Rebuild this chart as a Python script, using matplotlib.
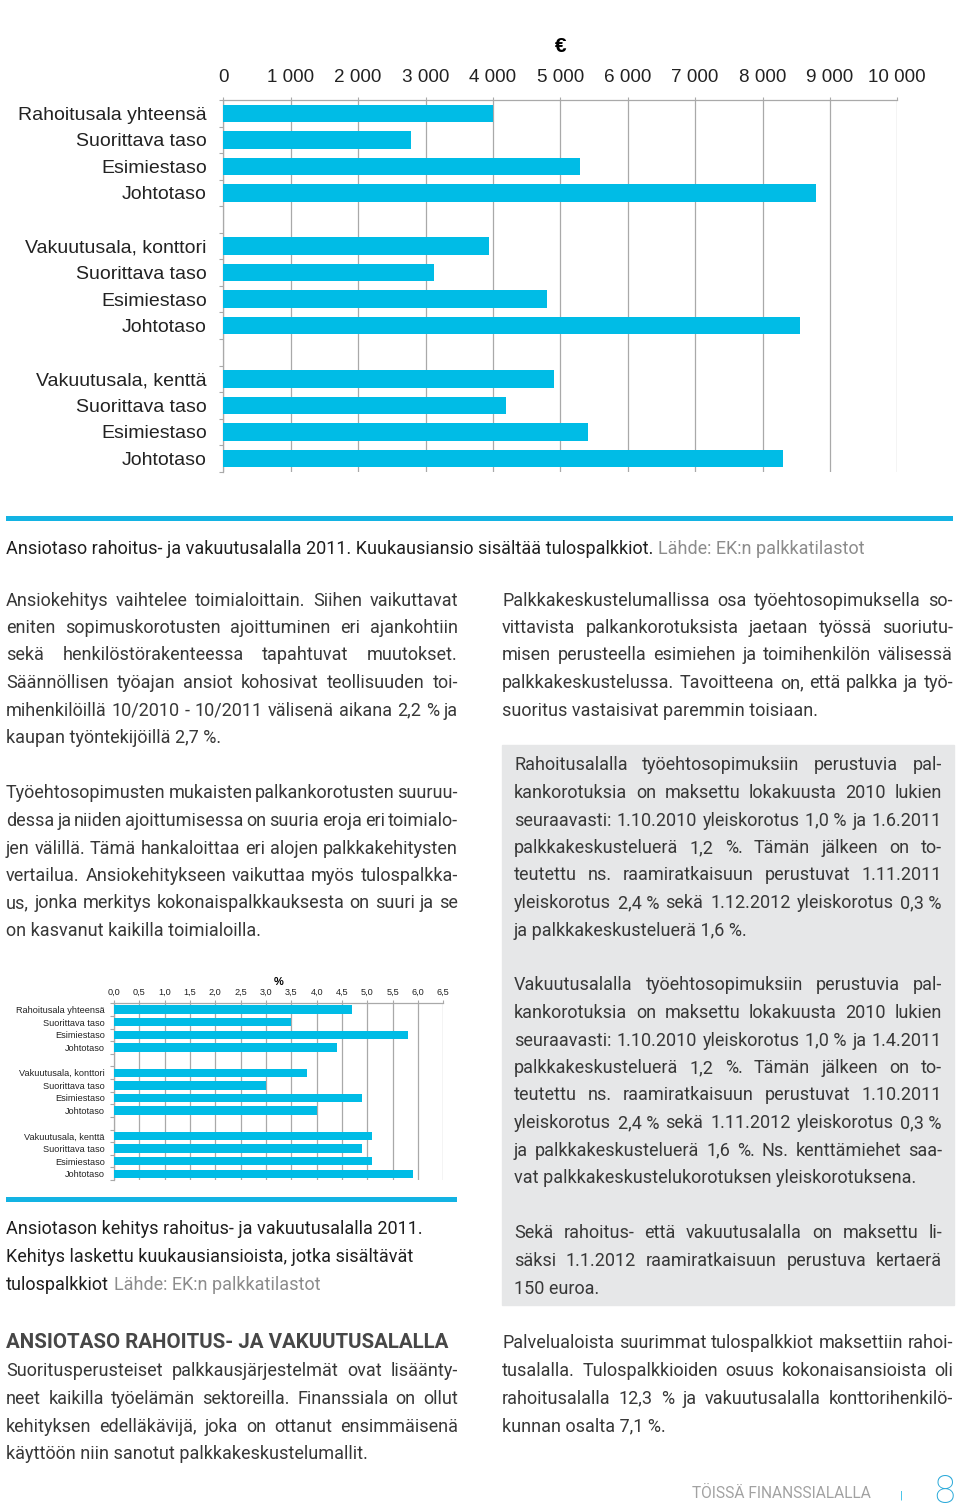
import matplotlib
matplotlib.use('Agg')
import numpy as np
import matplotlib.pyplot as plt
from matplotlib.patches import Rectangle

# page size in pixels (dpi 100)
W, H = 960, 1511
BLUE = '#00bce6'
BAND = '#13b3e3'
TXT = '#383838'
GREY = '#8c8c8c'
GRID = '#a9a9a9'
BODY_FONT = ['Roboto', 'DejaVu Sans']
CHART_FONT = ['Liberation Sans', 'DejaVu Sans']
BODY_SIZE = 13
LEAD = 27.5

# -------------------------- data --------------------------
labels = ['Rahoitusala yhteensä', 'Suorittava taso', 'Esimiestaso', 'Johtotaso',
          'Vakuutusala, konttori', 'Suorittava taso', 'Esimiestaso', 'Johtotaso',
          'Vakuutusala, kenttä', 'Suorittava taso', 'Esimiestaso', 'Johtotaso']
euros = [4000, 2780, 5290, 8800,
         3940, 3120, 4800, 8550,
         4900, 4200, 5410, 8310]
pct = [4.7, 3.5, 5.8, 4.4,
       3.8, 3.0, 4.9, 4.0,
       5.1, 4.9, 5.1, 5.9]
euro_ticks = list(range(0, 10001, 1000))
euro_ticklabels = ['0', '1 000', '2 000', '3 000', '4 000', '5 000',
                   '6 000', '7 000', '8 000', '9 000', '10 000']
pct_ticks = [i * 0.5 for i in range(14)]
pct_ticklabels = ['0,0', '0,5', '1,0', '1,5', '2,0', '2,5', '3,0',
                  '3,5', '4,0', '4,5', '5,0', '5,5', '6,0', '6,5']

caption_top = 'Ansiotaso rahoitus- ja vakuutusalalla 2011. Kuukausiansio sisältää tulospalkkiot.'
caption_small = ['Ansiotason kehitys rahoitus- ja vakuutusalalla 2011.',
                 'Kehitys laskettu kuukausiansioista, jotka sisältävät',
                 'tulospalkkiot']
source = 'Lähde: EK:n palkkatilastot'

left_p1 = ['Ansiokehitys vaihtelee toimialoittain. Siihen vaikuttavat',
           'eniten sopimuskorotusten ajoittuminen eri ajankohtiin',
           'sekä henkilöstörakenteessa tapahtuvat muutokset.',
           'Säännöllisen työajan ansiot kohosivat teollisuuden toi-',
           'mihenkilöillä 10/2010 - 10/2011 välisenä aikana 2,2 % ja',
           'kaupan työntekijöillä 2,7 %.']
left_p2 = ['Työehtosopimusten mukaisten palkankorotusten suuruu-',
           'dessa ja niiden ajoittumisessa on suuria eroja eri toimialo-',
           'jen välillä. Tämä hankaloittaa eri alojen palkkakehitysten',
           'vertailua. Ansiokehitykseen vaikuttaa myös tulospalkka-',
           'us, jonka merkitys kokonaispalkkauksesta on suuri ja se',
           'on kasvanut kaikilla toimialoilla.']
heading = 'ANSIOTASO RAHOITUS- JA VAKUUTUSALALLA'
left_p3 = ['Suoritusperusteiset palkkausjärjestelmät ovat lisäänty-',
           'neet kaikilla työelämän sektoreilla. Finanssiala on ollut',
           'kehityksen edelläkävijä, joka on ottanut ensimmäisenä',
           'käyttöön niin sanotut palkkakeskustelumallit.']
right_p1 = ['Palkkakeskustelumallissa osa työehtosopimuksella so-',
            'vittavista palkankorotuksista jaetaan työssä suoriutu-',
            'misen perusteella esimiehen ja toimihenkilön välisessä',
            'palkkakeskustelussa. Tavoitteena on, että palkka ja työ-',
            'suoritus vastaisivat paremmin toisiaan.']
box_p1 = ['Rahoitusalalla työehtosopimuksiin perustuvia pal-',
          'kankorotuksia on maksettu lokakuusta 2010 lukien',
          'seuraavasti: 1.10.2010 yleiskorotus 1,0\u00a0% ja 1.6.2011',
          'palkkakeskusteluerä 1,2 %. Tämän jälkeen on to-',
          'teutettu ns. raamiratkaisuun perustuvat 1.11.2011',
          'yleiskorotus 2,4\u00a0% sekä 1.12.2012 yleiskorotus 0,3\u00a0%',
          'ja palkkakeskusteluerä 1,6 %.']
box_p2 = ['Vakuutusalalla työehtosopimuksiin perustuvia pal-',
          'kankorotuksia on maksettu lokakuusta 2010 lukien',
          'seuraavasti: 1.10.2010 yleiskorotus 1,0\u00a0% ja 1.4.2011',
          'palkkakeskusteluerä 1,2 %. Tämän jälkeen on to-',
          'teutettu ns. raamiratkaisuun perustuvat 1.10.2011',
          'yleiskorotus 2,4\u00a0% sekä 1.11.2012 yleiskorotus 0,3\u00a0%',
          'ja palkkakeskusteluerä 1,6 %. Ns. kenttämiehet saa-',
          'vat palkkakeskustelukorotuksen yleiskorotuksena.']
box_p3 = ['Sekä rahoitus- että vakuutusalalla on maksettu li-',
          'säksi 1.1.2012 raamiratkaisuun perustuva kertaerä',
          '150 euroa.']
right_p4 = ['Palvelualoista suurimmat tulospalkkiot maksettiin rahoi-',
            'tusalalla. Tulospalkkioiden osuus kokonaisansioista oli',
            'rahoitusalalla 12,3 % ja vakuutusalalla konttorihenkilö-',
            'kunnan osalta 7,1 %.']


# -------------------------- helpers --------------------------
def fx(x):
    return x / W


def fy(y):
    return 1 - y / H


def axes_px(fig, x0, y0, x1, y1):
    """axes from pixel box (top-left origin)"""
    return fig.add_axes([fx(x0), fy(y1), (x1 - x0) / W, (y1 - y0) / H])


def bar_panel(ax, values, xmax, ticks, ticklabels, tick_fs, label_fs,
              label_pad, tick_pad, unit, unit_fs, unit_pad):
    # 3 groups of 4 rows with one empty row between them
    ypos = [i + i // 4 for i in range(len(values))]
    ax.barh(ypos, values, height=0.66, color=BLUE, zorder=3)
    ax.set_ylim(13.5, -0.5)
    ax.set_xlim(0, xmax)
    ax.xaxis.tick_top()
    ax.set_xticks(ticks)
    ax.set_xticklabels(ticklabels, fontsize=tick_fs, family=CHART_FONT, color='#222222')
    ax.tick_params(axis='x', length=2.5, width=0.8, color=GRID, pad=tick_pad)
    ax.grid(axis='x', color=GRID, lw=0.9, zorder=0)
    ax.set_yticks(ypos)
    ax.set_yticklabels(labels, fontsize=label_fs, family=CHART_FONT, color='#222222')
    ax.tick_params(axis='y', which='major', length=0, pad=label_pad)
    ax.set_yticks(np.arange(-0.5, 14, 1), minor=True)
    ax.tick_params(axis='y', which='minor', length=3, width=0.8, color=GRID)
    for s in ['right', 'bottom']:
        ax.spines[s].set_visible(False)
    for s in ['top', 'left']:
        ax.spines[s].set_color(GRID)
        ax.spines[s].set_linewidth(0.9)
    ax.xaxis.set_label_position('top')
    ax.set_xlabel(unit, fontsize=unit_fs, fontweight='bold', family=CHART_FONT,
                  labelpad=unit_pad)


def text_px(fig, x, y, s, size=BODY_SIZE, color=TXT, weight='normal', **kw):
    return fig.text(fx(x), fy(y + 5.5), s, fontsize=size, color=color,
                    fontweight=weight, family=BODY_FONT, va='baseline', **kw)


def width_of(fig, r, s):
    t = text_px(fig, 0, 300, s)
    w = t.get_window_extent(r).width
    t.remove()
    return w


def justify(fig, r, line, x0, x1, y):
    words = line.split(' ')
    objs = [text_px(fig, x0, y, w) for w in words]
    widths = [o.get_window_extent(r).width for o in objs]
    gap = (x1 - x0 - sum(widths)) / max(len(words) - 1, 1)
    x = x0
    for o, w in zip(objs, widths):
        o.set_x(fx(x))
        x += w + gap


def paragraph(fig, r, lines, x0, x1, y0):
    for i, line in enumerate(lines):
        y = y0 + i * LEAD
        if i < len(lines) - 1:
            justify(fig, r, line, x0, x1, y)
        else:
            text_px(fig, x0, y, line)


def with_source(fig, r, x, y, s):
    t = text_px(fig, x, y, s, color='#1e1e1e')
    space = width_of(fig, r, 'a a') - width_of(fig, r, 'aa')
    w = t.get_window_extent(r).width
    text_px(fig, x + w + space, y, source, color=GREY)


# -------------------------- page --------------------------
fig = plt.figure(figsize=(W / 100, H / 100), dpi=100)
fig.patch.set_facecolor('white')
r = fig.canvas.get_renderer()

# grey info box (behind everything)
fig.add_artist(Rectangle((fx(502), fy(1305)), 452 / W, 560 / H,
                         transform=fig.transFigure, color='#e6e7e8', zorder=0))

# big chart: euros
ax1 = axes_px(fig, 223.3, 100, 897.3, 471.7)
bar_panel(ax1, euros, 10000, euro_ticks, euro_ticklabels, 13.6, 14, 12, 7.5,
          '€', 15, 12)

# small chart: percent
ax2 = axes_px(fig, 114, 1003.3, 443.3, 1180)
bar_panel(ax2, pct, 6.5, pct_ticks, pct_ticklabels, 6.6, 6.6, 6.5, 2.5,
          '%', 8, 2)

# blue bands
fig.add_artist(Rectangle((fx(6), fy(521)), 947 / W, 5 / H,
                         transform=fig.transFigure, color=BAND, lw=0))
fig.add_artist(Rectangle((fx(6), fy(1202)), 451 / W, 5 / H,
                         transform=fig.transFigure, color=BAND, lw=0))

# captions
with_source(fig, r, 6, 548, caption_top)
text_px(fig, 6, 1229, caption_small[0], color='#1e1e1e')
text_px(fig, 6, 1229 + LEAD, caption_small[1], color='#1e1e1e')
with_source(fig, r, 6, 1229 + 2 * LEAD, caption_small[2])

# left column
paragraph(fig, r, left_p1, 6, 458, 600)
paragraph(fig, r, left_p2, 6, 458, 793)
text_px(fig, 6, 1343, heading, size=14.8, color='#474747', weight='bold')
paragraph(fig, r, left_p3, 6, 458, 1371)

# right column
paragraph(fig, r, right_p1, 502, 953, 600)
paragraph(fig, r, box_p1, 514, 942, 765)
paragraph(fig, r, box_p2, 514, 942, 985)
paragraph(fig, r, box_p3, 514, 942, 1233)
paragraph(fig, r, right_p4, 502, 953, 1343)

# footer
fig.text(fx(692), fy(1493), 'TÖISSÄ FINANSSIALALLA', fontsize=11.2, color='#a2a2a2',
         family=BODY_FONT, va='center', ha='left')
fig.text(fx(901), fy(1495), '|', fontsize=8, color=BAND, family=BODY_FONT,
         va='center', ha='center')
fig.text(fx(944.5), fy(1492), '8', fontsize=27, color='#2aa9d9', family=BODY_FONT,
         fontweight='light', va='center', ha='center')

fig.savefig('out.png', dpi=100)
